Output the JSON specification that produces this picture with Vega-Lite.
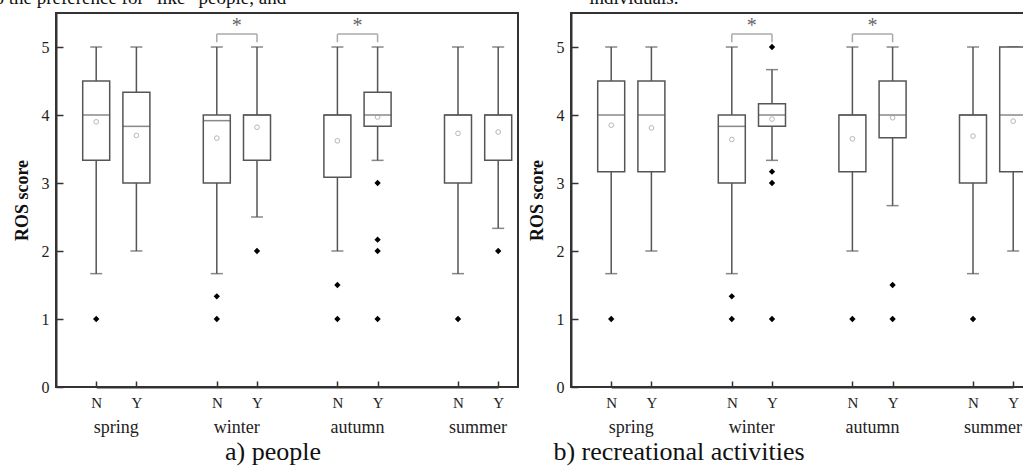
{
  "$schema": "https://vega.github.io/schema/vega-lite/v6.json",
  "padding": {"left": -12, "top": -12, "right": 0, "bottom": 0},
  "background": "white",
  "config": {
    "view": {"stroke": "#333", "strokeWidth": 2},
    "axis": {"grid": false, "labelFont": "Liberation Serif", "titleFont": "Liberation Serif", "labelColor": "#222", "titleColor": "#111", "domainColor": "#333", "domainWidth": 2, "tickColor": "#333", "tickWidth": 1.5},
    "text": {"font": "Liberation Serif"}
  },
  "datasets": {
    "stats": [
      {"panel": "a", "key": "spring N", "season": "spring", "grp": "N", "lo": 1.667, "q1": 3.333, "med": 4.0, "q3": 4.5, "hi": 5, "mean": 3.90},
      {"panel": "a", "key": "spring Y", "season": "spring", "grp": "Y", "lo": 2.0, "q1": 3.0, "med": 3.833, "q3": 4.333, "hi": 5, "mean": 3.70},
      {"panel": "a", "key": "winter N", "season": "winter", "grp": "N", "lo": 1.667, "q1": 3.0, "med": 3.917, "q3": 4.0, "hi": 5, "mean": 3.66},
      {"panel": "a", "key": "winter Y", "season": "winter", "grp": "Y", "lo": 2.5, "q1": 3.333, "med": 4.0, "q3": 4.0, "hi": 5, "mean": 3.82},
      {"panel": "a", "key": "autumn N", "season": "autumn", "grp": "N", "lo": 2.0, "q1": 3.083, "med": 4.0, "q3": 4.0, "hi": 5, "mean": 3.62},
      {"panel": "a", "key": "autumn Y", "season": "autumn", "grp": "Y", "lo": 3.333, "q1": 3.833, "med": 4.0, "q3": 4.333, "hi": 5, "mean": 3.97},
      {"panel": "a", "key": "summer N", "season": "summer", "grp": "N", "lo": 1.667, "q1": 3.0, "med": 4.0, "q3": 4.0, "hi": 5, "mean": 3.73},
      {"panel": "a", "key": "summer Y", "season": "summer", "grp": "Y", "lo": 2.333, "q1": 3.333, "med": 4.0, "q3": 4.0, "hi": 5, "mean": 3.75},
      {"panel": "b", "key": "spring N", "season": "spring", "grp": "N", "lo": 1.667, "q1": 3.167, "med": 4.0, "q3": 4.5, "hi": 5, "mean": 3.85},
      {"panel": "b", "key": "spring Y", "season": "spring", "grp": "Y", "lo": 2.0, "q1": 3.167, "med": 4.0, "q3": 4.5, "hi": 5, "mean": 3.81},
      {"panel": "b", "key": "winter N", "season": "winter", "grp": "N", "lo": 1.667, "q1": 3.0, "med": 3.833, "q3": 4.0, "hi": 5, "mean": 3.64},
      {"panel": "b", "key": "winter Y", "season": "winter", "grp": "Y", "lo": 3.333, "q1": 3.833, "med": 4.0, "q3": 4.167, "hi": 4.667, "mean": 3.94},
      {"panel": "b", "key": "autumn N", "season": "autumn", "grp": "N", "lo": 2.0, "q1": 3.167, "med": 4.0, "q3": 4.0, "hi": 5, "mean": 3.65},
      {"panel": "b", "key": "autumn Y", "season": "autumn", "grp": "Y", "lo": 2.667, "q1": 3.667, "med": 4.0, "q3": 4.5, "hi": 5, "mean": 3.96},
      {"panel": "b", "key": "summer N", "season": "summer", "grp": "N", "lo": 1.667, "q1": 3.0, "med": 4.0, "q3": 4.0, "hi": 5, "mean": 3.69},
      {"panel": "b", "key": "summer Y", "season": "summer", "grp": "Y", "lo": 2.0, "q1": 3.167, "med": 4.0, "q3": 5.0, "hi": 5, "mean": 3.91}
    ],
    "outliers": [
      {"panel": "a", "key": "spring N", "value": 1},
      {"panel": "a", "key": "winter N", "value": 1.333},
      {"panel": "a", "key": "winter N", "value": 1},
      {"panel": "a", "key": "winter Y", "value": 2},
      {"panel": "a", "key": "autumn N", "value": 1.5},
      {"panel": "a", "key": "autumn N", "value": 1},
      {"panel": "a", "key": "autumn Y", "value": 3},
      {"panel": "a", "key": "autumn Y", "value": 2.167},
      {"panel": "a", "key": "autumn Y", "value": 2},
      {"panel": "a", "key": "autumn Y", "value": 1},
      {"panel": "a", "key": "summer N", "value": 1},
      {"panel": "a", "key": "summer Y", "value": 2},
      {"panel": "b", "key": "spring N", "value": 1},
      {"panel": "b", "key": "winter N", "value": 1.333},
      {"panel": "b", "key": "winter N", "value": 1},
      {"panel": "b", "key": "winter Y", "value": 5},
      {"panel": "b", "key": "winter Y", "value": 3.167},
      {"panel": "b", "key": "winter Y", "value": 3},
      {"panel": "b", "key": "winter Y", "value": 1},
      {"panel": "b", "key": "autumn N", "value": 1},
      {"panel": "b", "key": "autumn Y", "value": 1.5},
      {"panel": "b", "key": "autumn Y", "value": 1},
      {"panel": "b", "key": "summer N", "value": 1}
    ],
    "brackets": [
      {"panel": "a", "left": "winter N", "right": "winter Y", "label": "*"},
      {"panel": "a", "left": "autumn N", "right": "autumn Y", "label": "*"},
      {"panel": "b", "left": "winter N", "right": "winter Y", "label": "*"},
      {"panel": "b", "left": "autumn N", "right": "autumn Y", "label": "*"}
    ],
    "pagetext": [
      {"panel": "a", "key": "spring N", "text": "to the preference for “like” people, and"},
      {"panel": "b", "key": "spring N", "text": "individuals."}
    ]
  },
  "spacing": 8,
  "hconcat": [
    {
      "width": 462, "height": 374,
      "title": {"text": "a) people", "orient": "bottom", "anchor": "middle", "dx": -14, "offset": 2, "font": "Liberation Serif", "fontSize": 26, "fontWeight": "normal", "color": "#111"},
      "encoding": {
        "x": {"field": "key", "type": "nominal", "title": null,
          "scale": {"type": "point", "padding": 0, "domain": ["spring N", "spring Y", "g1", "winter N", "winter Y", "g2", "autumn N", "autumn Y", "g3", "summer N", "summer Y"], "range": [40.2, 442.2]},
          "axis": {"values": ["spring N", "spring Y", "winter N", "winter Y", "autumn N", "autumn Y", "summer N", "summer Y"], "labelExpr": "slice(datum.label, -1)", "tickSize": -6, "labelPadding": 14, "labelFontSize": 15, "labelAngle": 0}
        }
      },
      "layer": [
        {"data": {"name": "stats"}, "transform": [{"filter": "datum.panel === 'a'"}],
          "mark": {"type": "rule", "color": "#555", "strokeWidth": 1.5},
          "encoding": {"y": {"field": "lo", "type": "quantitative", "scale": {"domain": [0, 5.5], "nice": false},
            "axis": {"values": [0, 0.5, 1, 1.5, 2, 2.5, 3, 3.5, 4, 4.5, 5], "labelExpr": "datum.value % 1 === 0 ? format(datum.value, 'd') : ''", "tickSize": {"condition": {"test": "datum.value % 1 === 0", "value": -7}, "value": -4}, "labelPadding": 14, "labelFontSize": 16, "title": "ROS score", "titleFontSize": 18, "titleFontWeight": "bold", "titlePadding": 10}},
            "y2": {"field": "hi"}}},
        {"data": {"name": "stats"}, "transform": [{"filter": "datum.panel === 'a'"}],
          "mark": {"type": "tick", "color": "#555", "size": 12, "thickness": 1.5},
          "encoding": {"y": {"field": "lo", "type": "quantitative"}}},
        {"data": {"name": "stats"}, "transform": [{"filter": "datum.panel === 'a'"}],
          "mark": {"type": "tick", "color": "#555", "size": 12, "thickness": 1.5},
          "encoding": {"y": {"field": "hi", "type": "quantitative"}}},
        {"data": {"name": "stats"}, "transform": [{"filter": "datum.panel === 'a'"}],
          "mark": {"type": "bar", "width": 27, "fill": "white", "stroke": "#555", "strokeWidth": 1.5},
          "encoding": {"y": {"field": "q1", "type": "quantitative"}, "y2": {"field": "q3"}}},
        {"data": {"name": "stats"}, "transform": [{"filter": "datum.panel === 'a'"}],
          "mark": {"type": "tick", "color": "#555", "size": 27, "thickness": 1.5},
          "encoding": {"y": {"field": "med", "type": "quantitative"}}},
        {"data": {"name": "stats"}, "transform": [{"filter": "datum.panel === 'a'"}],
          "mark": {"type": "point", "shape": "circle", "filled": false, "color": "#999", "size": 22, "strokeWidth": 1},
          "encoding": {"y": {"field": "mean", "type": "quantitative"}}},
        {"data": {"name": "outliers"}, "transform": [{"filter": "datum.panel === 'a'"}],
          "mark": {"type": "point", "shape": "diamond", "filled": true, "color": "black", "size": 40, "opacity": 1},
          "encoding": {"y": {"field": "value", "type": "quantitative"}}},
        {"data": {"name": "stats"}, "transform": [{"filter": "datum.panel === 'a' && datum.grp === 'N'"}],
          "mark": {"type": "text", "dx": 20, "fontSize": 18, "color": "#222", "baseline": "middle"},
          "encoding": {"y": {"datum": -0.6, "type": "quantitative"}, "text": {"field": "season"}}},
        {"data": {"name": "brackets"}, "transform": [{"filter": "datum.panel === 'a'"}],
          "mark": {"type": "rule", "color": "#aaa", "strokeWidth": 1.5},
          "encoding": {"x": {"field": "left", "type": "nominal"}, "x2": {"field": "right"}, "y": {"datum": 5.19, "type": "quantitative"}}},
        {"data": {"name": "brackets"}, "transform": [{"filter": "datum.panel === 'a'"}],
          "mark": {"type": "rule", "color": "#aaa", "strokeWidth": 1.5},
          "encoding": {"x": {"field": "left", "type": "nominal"}, "y": {"datum": 5.07, "type": "quantitative"}, "y2": {"datum": 5.19}}},
        {"data": {"name": "brackets"}, "transform": [{"filter": "datum.panel === 'a'"}],
          "mark": {"type": "rule", "color": "#aaa", "strokeWidth": 1.5},
          "encoding": {"x": {"field": "right", "type": "nominal"}, "y": {"datum": 5.07, "type": "quantitative"}, "y2": {"datum": 5.19}}},
        {"data": {"name": "brackets"}, "transform": [{"filter": "datum.panel === 'a'"}],
          "mark": {"type": "text", "dx": 20, "fontSize": 20, "color": "#666", "baseline": "middle"},
          "encoding": {"x": {"field": "left", "type": "nominal"}, "y": {"datum": 5.31, "type": "quantitative"}, "text": {"field": "label"}}},
        {"data": {"name": "pagetext"}, "transform": [{"filter": "datum.panel === 'a'"}],
          "mark": {"type": "text", "dx": -107, "fontSize": 19, "color": "#111", "align": "left", "baseline": "alphabetic"},
          "encoding": {"y": {"datum": 5.63, "type": "quantitative"}, "text": {"field": "text"}}}
      ]
    },
    {
      "width": 462, "height": 374,
      "title": {"text": "b) recreational activities", "orient": "bottom", "anchor": "middle", "dx": -123, "offset": 2, "font": "Liberation Serif", "fontSize": 26, "fontWeight": "normal", "color": "#111"},
      "encoding": {
        "x": {"field": "key", "type": "nominal", "title": null,
          "scale": {"type": "point", "padding": 0, "domain": ["spring N", "spring Y", "g1", "winter N", "winter Y", "g2", "autumn N", "autumn Y", "g3", "summer N", "summer Y"], "range": [40.2, 442.2]},
          "axis": {"values": ["spring N", "spring Y", "winter N", "winter Y", "autumn N", "autumn Y", "summer N", "summer Y"], "labelExpr": "slice(datum.label, -1)", "tickSize": -6, "labelPadding": 14, "labelFontSize": 15, "labelAngle": 0}
        }
      },
      "layer": [
        {"data": {"name": "stats"}, "transform": [{"filter": "datum.panel === 'b'"}],
          "mark": {"type": "rule", "color": "#555", "strokeWidth": 1.5},
          "encoding": {"y": {"field": "lo", "type": "quantitative", "scale": {"domain": [0, 5.5], "nice": false},
            "axis": {"values": [0, 0.5, 1, 1.5, 2, 2.5, 3, 3.5, 4, 4.5, 5], "labelExpr": "datum.value % 1 === 0 ? format(datum.value, 'd') : ''", "tickSize": {"condition": {"test": "datum.value % 1 === 0", "value": -7}, "value": -4}, "labelPadding": 14, "labelFontSize": 16, "title": "ROS score", "titleFontSize": 18, "titleFontWeight": "bold", "titlePadding": 10}},
            "y2": {"field": "hi"}}},
        {"data": {"name": "stats"}, "transform": [{"filter": "datum.panel === 'b'"}],
          "mark": {"type": "tick", "color": "#555", "size": 12, "thickness": 1.5},
          "encoding": {"y": {"field": "lo", "type": "quantitative"}}},
        {"data": {"name": "stats"}, "transform": [{"filter": "datum.panel === 'b'"}],
          "mark": {"type": "tick", "color": "#555", "size": 12, "thickness": 1.5},
          "encoding": {"y": {"field": "hi", "type": "quantitative"}}},
        {"data": {"name": "stats"}, "transform": [{"filter": "datum.panel === 'b'"}],
          "mark": {"type": "bar", "width": 27, "fill": "white", "stroke": "#555", "strokeWidth": 1.5},
          "encoding": {"y": {"field": "q1", "type": "quantitative"}, "y2": {"field": "q3"}}},
        {"data": {"name": "stats"}, "transform": [{"filter": "datum.panel === 'b'"}],
          "mark": {"type": "tick", "color": "#555", "size": 27, "thickness": 1.5},
          "encoding": {"y": {"field": "med", "type": "quantitative"}}},
        {"data": {"name": "stats"}, "transform": [{"filter": "datum.panel === 'b'"}],
          "mark": {"type": "point", "shape": "circle", "filled": false, "color": "#999", "size": 22, "strokeWidth": 1},
          "encoding": {"y": {"field": "mean", "type": "quantitative"}}},
        {"data": {"name": "outliers"}, "transform": [{"filter": "datum.panel === 'b'"}],
          "mark": {"type": "point", "shape": "diamond", "filled": true, "color": "black", "size": 40, "opacity": 1},
          "encoding": {"y": {"field": "value", "type": "quantitative"}}},
        {"data": {"name": "stats"}, "transform": [{"filter": "datum.panel === 'b' && datum.grp === 'N'"}],
          "mark": {"type": "text", "dx": 20, "fontSize": 18, "color": "#222", "baseline": "middle"},
          "encoding": {"y": {"datum": -0.6, "type": "quantitative"}, "text": {"field": "season"}}},
        {"data": {"name": "brackets"}, "transform": [{"filter": "datum.panel === 'b'"}],
          "mark": {"type": "rule", "color": "#aaa", "strokeWidth": 1.5},
          "encoding": {"x": {"field": "left", "type": "nominal"}, "x2": {"field": "right"}, "y": {"datum": 5.19, "type": "quantitative"}}},
        {"data": {"name": "brackets"}, "transform": [{"filter": "datum.panel === 'b'"}],
          "mark": {"type": "rule", "color": "#aaa", "strokeWidth": 1.5},
          "encoding": {"x": {"field": "left", "type": "nominal"}, "y": {"datum": 5.07, "type": "quantitative"}, "y2": {"datum": 5.19}}},
        {"data": {"name": "brackets"}, "transform": [{"filter": "datum.panel === 'b'"}],
          "mark": {"type": "rule", "color": "#aaa", "strokeWidth": 1.5},
          "encoding": {"x": {"field": "right", "type": "nominal"}, "y": {"datum": 5.07, "type": "quantitative"}, "y2": {"datum": 5.19}}},
        {"data": {"name": "brackets"}, "transform": [{"filter": "datum.panel === 'b'"}],
          "mark": {"type": "text", "dx": 20, "fontSize": 20, "color": "#666", "baseline": "middle"},
          "encoding": {"x": {"field": "left", "type": "nominal"}, "y": {"datum": 5.31, "type": "quantitative"}, "text": {"field": "label"}}},
        {"data": {"name": "pagetext"}, "transform": [{"filter": "datum.panel === 'b'"}],
          "mark": {"type": "text", "dx": -22, "fontSize": 19, "color": "#111", "align": "left", "baseline": "alphabetic"},
          "encoding": {"y": {"datum": 5.63, "type": "quantitative"}, "text": {"field": "text"}}}
      ]
    }
  ]
}
